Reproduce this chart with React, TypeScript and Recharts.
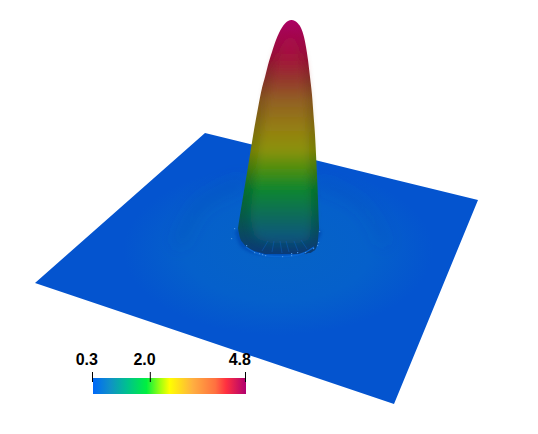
import React from "react";
import { ComposedChart, Area, Line, Scatter, XAxis, YAxis } from "recharts";

// Projected surface outline: x, upper edge, lower edge (in picture units)
const plateX = [35, 205, 394, 478];
const plateTop = [283, 133, 179.4, 200];
const plateBottom = [283, 340.3, 404, 200];

const peakX = [238, 240, 243, 248, 254, 258, 262, 265, 268, 272, 276, 279, 282, 285, 288, 291.5, 295, 298, 301, 304, 306, 308, 310, 312, 313.5, 315, 316.5, 318, 319];
const peakTop = [228, 215, 197, 167, 130, 108, 88, 77, 65, 52, 40, 33, 27.5, 23.5, 21, 20, 21, 23.5, 28, 37, 47, 60, 77, 95, 115, 135, 165, 200, 228];
const peakBottom = [228, 238, 243, 248, 251, 252, 253, 254, 254, 254, 254, 254, 254, 254, 254, 254, 254, 254, 254, 254, 254, 253, 253, 252, 251, 250, 247, 240, 228];

const coreX = [250, 255, 261, 267, 273, 279, 285, 290, 294, 298, 302, 305, 308, 310, 312];
const coreTop = [215, 175, 135, 100, 72, 52, 40, 36, 38, 46, 62, 85, 125, 170, 215];
const coreBottom = [215, 236, 240, 242, 243, 243, 243, 243, 243, 243, 242, 241, 240, 236, 215];

const haloX = [235, 240, 255, 278, 300, 315, 322];
const haloTop = [232, 228, 228, 228, 228, 228, 232];
const haloBottom = [232, 246, 254, 256.5, 254, 246, 232];

const rimX = [246, 256, 268, 280, 292, 304, 314];
const rimY = [247, 253, 256, 256.5, 256, 253, 247];

const ringLeftX = [178, 195, 220, 245];
const ringLeftY = [245, 212, 193, 183];
const ringRightX = [315, 345, 372, 385];
const ringRightY = [183, 194, 218, 245];

const streakX = [268, 262, null, 274, 272, null, 280, 282, null, 286, 289, null, 294, 298, null, 301, 307];
const streakY = [241, 251, null, 241, 252, null, 241, 253, null, 241, 252, null, 241, 251, null, 240, 249];

const specklesX = [234, 231, 246, 254, 259, 262, 265, 282, 291, 291, 297, 305, 313, 317, 318, 319];
const specklesY = [228, 238, 245, 252, 253, 254, 255, 256, 255, 253, 252, 252, 248, 245, 242, 231];

const peakY = [20, 40, 60, 80, 100, 130, 150, 170, 190, 215, 240, 254];
const peakBright = ["#ac0064", "#a9084c", "#a2163a", "#94382c", "#926024", "#948012", "#8c9208", "#4a8e12", "#0a8630", "#086c5a", "#0a5480", "#0a4c90"];
const peakDark = ["#ac0064", "#a00848", "#921432", "#823226", "#82541e", "#7e6e0e", "#767e06", "#3e7810", "#087028", "#065a48", "#0a4468", "#0a3a78"];

const barValues = [0.3, 4.8];
const barTicks = [0.3, 2.0, 4.8];
const barPos = [0, 0.11, 0.22, 0.35, 0.44, 0.5, 0.65, 0.8, 0.87, 1];
const barColors = ["#0068f8", "#1090c8", "#00c090", "#00f040", "#a0ff10", "#ffff00", "#ffb040", "#ff7040", "#ff3040", "#b00070"];

const table = (xs: number[], lo: number[], hi: number[]) =>
  xs.map((x, i) => ({ x, band: [lo[i], hi[i]] }));
const points = (xs: (number | null)[], ys: (number | null)[]) =>
  xs.map((x, i) => ({ x, y: ys[i] }));
const plate = table(plateX, plateTop, plateBottom);
const peak = table(peakX, peakTop, peakBottom);
const core = table(coreX, coreTop, coreBottom);
const halo = table(haloX, haloTop, haloBottom);
const rim = points(rimX, rimY);
const ringLeft = points(ringLeftX, ringLeftY);
const ringRight = points(ringRightX, ringRightY);
const streaks = points(streakX, streakY);
const speckles = points(specklesX, specklesY);
const bar = barValues.map((v) => ({ v, band: [0, 1] }));

const grad = (id: string, cols: string[]) => (
  <linearGradient id={id} gradientUnits="userSpaceOnUse" x1="0" x2="0" y1={20} y2={254}>
    {peakY.map((y, i) => (
      <stop key={y} offset={(y - 20) / 234} stopColor={cols[i]} />
    ))}
  </linearGradient>
);

const Speck = (p: any) => <rect x={p.cx} y={p.cy} width={1.2} height={1.2} fill="#4792e0" />;

const BarTick = (p: any) => (
  <g>
    <line x1={p.x - 0.5} x2={p.x - 0.5} y1={p.y + 2} y2={p.y + 12} stroke="#000" strokeWidth={1} />
    <text x={p.x - 6.2} y={p.y - 5} textAnchor="middle" fontFamily="Liberation Sans" fontWeight="bold" fontSize={16} fill="#000">
      {p.payload.value.toFixed(1)}
    </text>
  </g>
);

export default function App() {
  return (
    <div style={{ position: "absolute", left: 0, top: 0, width: 538, height: 434, background: "#fff" }}>
      <ComposedChart width={538} height={434} margin={{ top: 0, right: 0, bottom: 0, left: 0 }}>
        <defs>
          <radialGradient id="glow" gradientUnits="userSpaceOnUse" cx="0" cy="0" r="155" gradientTransform="translate(278 250) scale(1 0.55)">
            <stop offset="0" stopColor="#0663c6" />
            <stop offset="0.6" stopColor="#0560cb" />
            <stop offset="1" stopColor="#0454cf" />
          </radialGradient>
          {grad("peakDark", peakDark)}
          {grad("peakBright", peakBright)}
          <filter id="soft" x="-30%" y="-10%" width="160%" height="120%">
            <feGaussianBlur stdDeviation="4" />
          </filter>
          <filter id="softSmall" x="-30%" y="-30%" width="160%" height="160%">
            <feGaussianBlur stdDeviation="1.5" />
          </filter>
          <filter id="softRing" x="-50%" y="-80%" width="200%" height="260%">
            <feGaussianBlur stdDeviation="8" />
          </filter>
        </defs>
        <XAxis dataKey="x" type="number" domain={[0, 538]} hide allowDataOverflow />
        <YAxis type="number" domain={[0, 434]} reversed hide allowDataOverflow />
        <Area data={plate} dataKey="band" type="linear" stroke="none" fill="url(#glow)" fillOpacity={1} isAnimationActive={false} dot={false} activeDot={false} />
        <Line data={ringLeft} dataKey="y" type="monotone" stroke="#054ea6" strokeOpacity={0.25} strokeWidth={10} filter="url(#softRing)" dot={false} activeDot={false} isAnimationActive={false} />
        <Line data={ringRight} dataKey="y" type="monotone" stroke="#054ea6" strokeOpacity={0.15} strokeWidth={10} filter="url(#softRing)" dot={false} activeDot={false} isAnimationActive={false} />
        <Area data={halo} dataKey="band" type="monotone" stroke="none" fill="#0550b8" fillOpacity={1} filter="url(#softSmall)" isAnimationActive={false} dot={false} activeDot={false} />
        <Line data={rim} dataKey="y" type="monotone" stroke="#0a66d2" strokeWidth={1.5} dot={false} activeDot={false} isAnimationActive={false} />
        <Area data={peak} dataKey="band" type="monotone" stroke="none" fill="url(#peakDark)" fillOpacity={1} isAnimationActive={false} dot={false} activeDot={false} />
        <Area data={core} dataKey="band" type="monotone" stroke="none" fill="url(#peakBright)" fillOpacity={1} filter="url(#soft)" isAnimationActive={false} dot={false} activeDot={false} />
        <Line data={streaks} dataKey="y" type="linear" stroke="#0a62c4" strokeOpacity={0.45} strokeWidth={1} connectNulls={false} dot={false} activeDot={false} isAnimationActive={false} />
        <Scatter data={speckles} dataKey="y" shape={Speck} isAnimationActive={false} />
      </ComposedChart>
      <div style={{ position: "absolute", left: 73, top: 340 }}>
        <ComposedChart width={193} height={54} margin={{ top: 0, right: 20, bottom: 0, left: 20 }}>
          <defs>
            <linearGradient id="barFill" x1="0" x2="1" y1="0" y2="0">
              {barPos.map((o, i) => (
                <stop key={o} offset={o} stopColor={barColors[i]} />
              ))}
            </linearGradient>
          </defs>
          <XAxis dataKey="v" type="number" domain={[0.3, 4.8]} ticks={barTicks} orientation="top" axisLine={false} tickLine={false} height={38} tick={BarTick} interval={0} />
          <YAxis type="number" domain={[0, 1]} hide />
          <Area data={bar} dataKey="band" type="linear" stroke="none" fill="url(#barFill)" fillOpacity={1} isAnimationActive={false} dot={false} activeDot={false} />
        </ComposedChart>
      </div>
    </div>
  );
}
